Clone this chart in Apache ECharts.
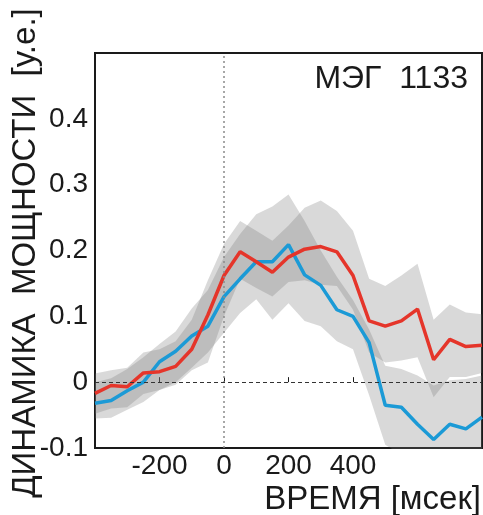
<!DOCTYPE html>
<html>
<head>
<meta charset="utf-8">
<script src="https://cdn.jsdelivr.net/npm/echarts@6/dist/echarts.min.js"></script>
<style>
  html, body { margin: 0; padding: 0; background: #fff; }
  #chart { width: 483px; height: 515px; }
</style>
</head>
<body>
<div id="chart"></div>
<script>
// время, мсек (шаг 50)
const times = [-400, -350, -300, -250, -200, -150, -100, -50, 0, 50, 100, 150, 200,
  250, 300, 350, 400, 450, 500, 550, 600, 650, 700, 750, 800];

const redLine = [-0.017, -0.005, -0.007, 0.014, 0.016, 0.024, 0.05, 0.102, 0.162, 0.198, 0.183, 0.167, 0.19,
  0.202, 0.206, 0.198, 0.162, 0.093, 0.085, 0.093, 0.111, 0.034, 0.065, 0.054, 0.056];
const blueLine = [-0.032, -0.028, -0.013, 0.0, 0.031, 0.047, 0.07, 0.085, 0.13, 0.157, 0.183, 0.183, 0.209,
  0.163, 0.147, 0.11, 0.1, 0.06, -0.035, -0.038, -0.064, -0.087, -0.064, -0.071, -0.053];

// доверительные коридоры
const redUpper = [0.013, 0.018, 0.022, 0.045, 0.05, 0.062, 0.095, 0.155, 0.21, 0.245, 0.23, 0.215, 0.238,
  0.265, 0.276, 0.26, 0.23, 0.157, 0.146, 0.162, 0.18, 0.095, 0.118, 0.106, 0.103];
const redLower = [-0.048, -0.04, -0.038, -0.018, -0.012, -0.004, 0.018, 0.03, 0.1, 0.157, 0.143, 0.13, 0.152,
  0.155, 0.148, 0.146, 0.11, 0.045, 0.03, 0.033, 0.038, -0.023, 0.008, 0.008, 0.014];
const blueUpper = [0.0, 0.006, 0.02, 0.038, 0.058, 0.077, 0.112, 0.14, 0.19, 0.225, 0.255, 0.267, 0.285,
  0.245, 0.2, 0.16, 0.125, 0.08, 0.025, 0.02, 0.01, -0.005, 0.003, 0.005, 0.01];
const blueLower = [-0.055, -0.054, -0.042, -0.03, -0.012, 0.0, 0.022, 0.045, 0.075, 0.105, 0.126, 0.095, 0.12,
  0.093, 0.085, 0.062, 0.05, -0.02, -0.095, -0.11, -0.14, -0.16, -0.14, -0.14, -0.12];

const xTickLabels = ['-200', '0', '200', '400'];
const yTickValues = [-0.1, 0, 0.1, 0.2, 0.3, 0.4];

const FONT = "'Liberation Sans', Arial, sans-serif";
const INK = '#1a1a1a';
const BAND = 'rgba(120,120,120,0.28)';

function band(name, lower, upper) {
  return [
    {
      name: name + 'Low', type: 'line', stack: name, stackStrategy: 'all',
      data: lower, symbol: 'none', lineStyle: { opacity: 0 }, silent: true
    },
    {
      name: name, type: 'line', stack: name, stackStrategy: 'all',
      data: upper.map((u, i) => +(u - lower[i]).toFixed(4)),
      symbol: 'none', lineStyle: { opacity: 0 },
      areaStyle: { color: BAND, opacity: 1 }, silent: true
    }
  ];
}

const chart = echarts.init(document.getElementById('chart'));
chart.setOption({
  animation: false,
  backgroundColor: '#fff',
  title: [
    {
      text: 'МЭГ  1133',
      right: 15, top: 63, padding: 0,
      textStyle: { fontFamily: FONT, fontSize: 32, fontWeight: 'normal', color: INK }
    },
    {
      text: 'ВРЕМЯ [мсек]',
      right: 2, top: 483, padding: 0,
      textStyle: { fontFamily: FONT, fontSize: 33, fontWeight: 'normal', color: INK }
    }
  ],
  graphic: [
    {
      type: 'text', x: 26, y: 253, rotation: Math.PI / 2, silent: true,
      style: {
        text: 'ДИНАМИКА  МОЩНОСТИ  [у.е.]', font: '33px ' + FONT, fill: INK,
        align: 'center', verticalAlign: 'middle'
      }
    }
  ],
  grid: {
    left: 95, right: 1, top: 53, bottom: 67,
    containLabel: false, outerBoundsMode: 'none',
    show: true, borderColor: INK, borderWidth: 2, backgroundColor: 'transparent'
  },
  xAxis: {
    type: 'category', data: times.map(String), boundaryGap: false,
    axisLine: { show: false },
    axisTick: {
      inside: true, length: 5, lineStyle: { color: INK },
      interval: (i, v) => xTickLabels.includes(v)
    },
    axisLabel: {
      interval: (i, v) => xTickLabels.includes(v),
      margin: 4, fontFamily: FONT, fontSize: 28, color: INK
    },
    splitLine: { show: false }
  },
  yAxis: [
    {
      type: 'value', min: -0.1, max: 0.5, interval: 0.1,
      axisLine: { show: false },
      axisTick: { inside: true, length: 5, lineStyle: { color: INK },
        customValues: [0.1, 0.2, 0.3, 0.4] },
      axisLabel: { customValues: yTickValues, margin: 7, fontFamily: FONT, fontSize: 28, color: INK },
      splitLine: { show: false }
    },
    {
      type: 'value', min: -0.1, max: 0.5, interval: 0.1, position: 'right',
      axisLine: { show: false },
      axisTick: { inside: true, length: 5, lineStyle: { color: INK },
        customValues: [0.1, 0.2, 0.3, 0.4] },
      axisLabel: { show: false },
      splitLine: { show: false }
    }
  ],
  series: [
    ...band('blueBand', blueLower, blueUpper),
    ...band('redBand', redLower, redUpper),
    {
      name: 'refs', type: 'line', data: [], symbol: 'none',
      markLine: {
        silent: true, symbol: 'none', label: { show: false }, animation: false,
        data: [
          { xAxis: '0', lineStyle: { color: '#8a8a8a', type: [2, 3], width: 1.5 } },
          { yAxis: 0, lineStyle: { color: '#333', type: [4, 3], width: 1 } }
        ]
      }
    },
    {
      name: 'blue', type: 'line', data: blueLine, symbol: 'none',
      lineStyle: { color: '#1b9ad6', width: 3.5 }
    },
    {
      name: 'red', type: 'line', data: redLine, symbol: 'none',
      lineStyle: { color: '#e5352a', width: 3.5 }
    }
  ]
});
</script>
</body>
</html>
